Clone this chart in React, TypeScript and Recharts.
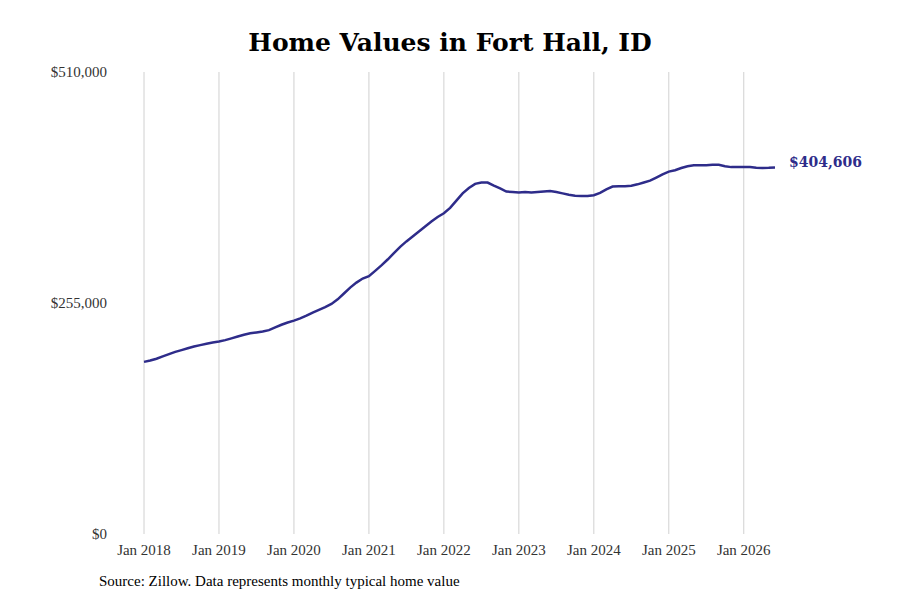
import { LineChart, Line, XAxis, YAxis, CartesianGrid, LabelList } from 'recharts'

// monthly typical home value, Jan 2018 .. Jun 2026 (thousands of $)
const values2018 = [190, 191.5, 193.5, 196, 198.5, 201, 203, 205, 207, 208.5, 210, 211.5]
const values2019 = [212.5, 214, 216, 218, 220, 221.5, 222.5, 223.5, 225, 228, 231, 233.5]
const values2020 = [235.5, 238, 241, 244.5, 247.5, 250.5, 254, 259, 265.5, 272, 277.5, 282]
const values2021 = [284.5, 290.5, 296.5, 303, 310, 317, 323, 328.5, 334, 339.5, 345, 350]
const values2022 = [354, 360, 368, 376, 382, 386.5, 388, 388, 384.5, 381.5, 378, 377.5]
const values2023 = [377, 377.5, 377, 377.5, 378, 378.5, 377.5, 376, 374.5, 373.5, 373, 373]
const values2024 = [374, 376.5, 380.5, 383.5, 384, 384, 384.5, 386, 388, 390, 393.5, 397]
const values2025 = [400, 401.5, 404, 406, 407, 407, 407, 407.5, 407.5, 406, 405, 405]
const values2026 = [405, 405.2, 404.2, 404, 404.2, 404.606]

const allValues = [
  ...values2018, ...values2019, ...values2020, ...values2021, ...values2022,
  ...values2023, ...values2024, ...values2025, ...values2026,
]
const tickIdx = [0, 12, 24, 36, 48, 60, 72, 84, 96]
const tickLabels = ['Jan 2018', 'Jan 2019', 'Jan 2020', 'Jan 2021', 'Jan 2022', 'Jan 2023', 'Jan 2024', 'Jan 2025', 'Jan 2026']
const yTicks = [0, 255000, 510000]

const data = allValues.map((v, i) => ({ i, value: Math.round(v * 1000) }))
const lastIdx = data.length - 1
const fmt = (v: number) => '$' + v.toLocaleString('en-US')
const font = '"DejaVu Serif", serif'
const tickFont = '"Liberation Serif", serif'

export default function App() {
  return (
    <div style={{ position: 'absolute', left: 0, top: 0, width: 900, height: 600, background: '#fff', fontFamily: font }}>
      <div style={{ position: 'absolute', top: 28, width: 900, textAlign: 'center', fontSize: 25, fontWeight: 'bold', color: '#000' }}>
        Home Values in Fort Hall, ID
      </div>
      <LineChart width={900} height={600} data={data} margin={{ top: 72, right: 125, bottom: 36, left: 44 }}>
        <CartesianGrid horizontal={false} stroke="#c4c4c4" strokeWidth={0.8} verticalValues={tickIdx} />
        <XAxis dataKey="i" type="number" domain={[0, 101]} ticks={tickIdx}
          tickFormatter={(v) => tickLabels[tickIdx.indexOf(v)]}
          axisLine={false} tickLine={false} tickMargin={4}
          tick={{ fontSize: 15, fill: '#333', fontFamily: tickFont }} height={30} />
        <YAxis type="number" domain={[0, 510000]} ticks={yTicks} tickFormatter={fmt}
          axisLine={false} tickLine={false} tickSize={0} tickMargin={37} width={100}
          tick={{ fontSize: 15, fill: '#333', fontFamily: tickFont }} />
        <Line dataKey="value" stroke="#2e2c8a" strokeWidth={2.5} dot={false} isAnimationActive={false}>
          <LabelList dataKey="value" content={(p: any) => p.index === lastIdx ? (
            <text x={p.x + 14} y={p.y} dy={0} fontSize={14} fontWeight="bold" fill="#2e2c8a" fontFamily={font}>{fmt(p.value)}</text>
          ) : null} />
        </Line>
      </LineChart>
      <div style={{ position: 'absolute', left: 99, top: 573, fontSize: 15, color: '#000', fontFamily: tickFont }}>
        Source: Zillow. Data represents monthly typical home value
      </div>
    </div>
  )
}
